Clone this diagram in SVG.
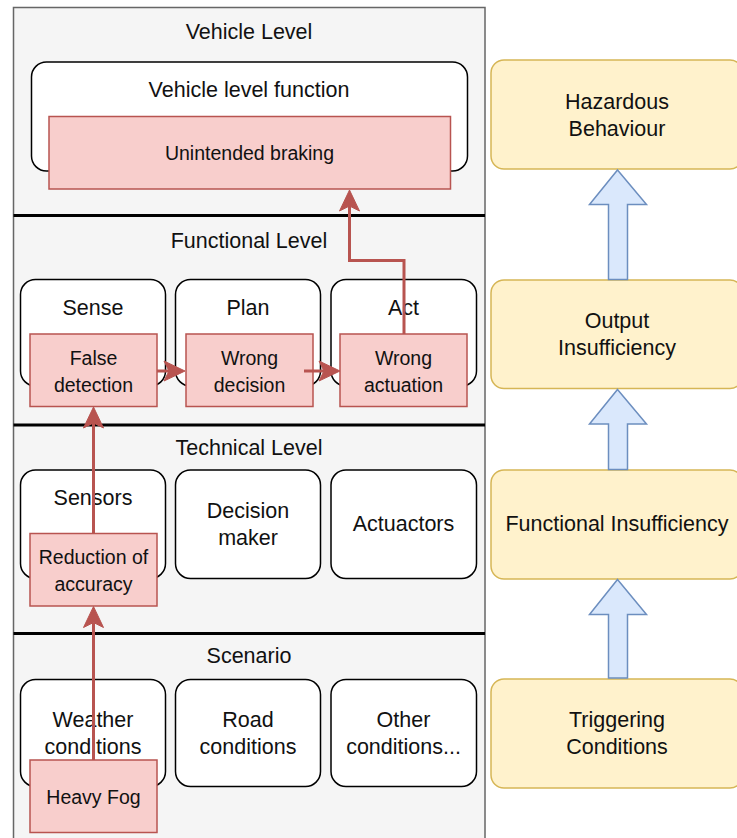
<svg xmlns="http://www.w3.org/2000/svg" width="737" height="838" viewBox="0 0 737 838">
<style>
  .t { font-family: "Liberation Sans", Arial, sans-serif; font-size: 21.5px; fill: #111; text-anchor: middle; dominant-baseline: central; }
  .tr { font-family: "Liberation Sans", Arial, sans-serif; font-size: 19.5px; fill: #111; text-anchor: middle; dominant-baseline: central; }
  .wbox { fill: #ffffff; stroke: #000000; stroke-width: 1.5; }
  .rbox { fill: #f8cecc; stroke: #b85450; stroke-width: 1.5; }
  .ybox { fill: #fff2cc; stroke: #d6b656; stroke-width: 1.5; }
  .sep { stroke: #000000; stroke-width: 3; }
  .conn { fill: none; stroke: #b85450; stroke-width: 3; }
  .barrow { fill: #dae8fc; stroke: #6c8ebf; stroke-width: 1.5; }
</style>
<defs>
  <marker id="ah" viewBox="-6 -11 23 22" refX="0" refY="0" markerWidth="23" markerHeight="22" markerUnits="userSpaceOnUse" orient="auto">
    <path d="M16,0 L-5,-10 L0,0 L-5,10 Z" fill="#b85450" stroke="#b85450" stroke-width="1"/>
  </marker>
</defs>

<g id="container">
  <rect x="13.5" y="7.5" width="471.5" height="845" fill="#f5f5f5" stroke="#666666" stroke-width="1.5"/>
  <line class="sep" x1="13.5" y1="215.5" x2="485" y2="215.5"/>
  <line class="sep" x1="13.5" y1="425" x2="485" y2="425"/>
  <line class="sep" x1="13.5" y1="633.5" x2="485" y2="633.5"/>
  <text class="t" x="249" y="32">Vehicle Level</text>
  <text class="t" x="249" y="241">Functional Level</text>
  <text class="t" x="249" y="447.5">Technical Level</text>
  <text class="t" x="249" y="656">Scenario</text>
</g>

<g id="vehicle-level-function">
  <rect class="wbox" x="31.5" y="62" width="436" height="109" rx="15"/>
  <text class="t" x="249" y="90">Vehicle level function</text>
</g>
<g id="unintended-braking">
  <rect class="rbox" x="49" y="116.5" width="401.5" height="72.5"/>
  <text class="tr" x="249.5" y="153">Unintended braking</text>
</g>

<g id="sense">
  <rect class="wbox" x="20.5" y="279.5" width="145" height="106.5" rx="15"/>
  <text class="t" x="93" y="308">Sense</text>
</g>
<g id="plan">
  <rect class="wbox" x="175.5" y="279.5" width="145" height="106.5" rx="15"/>
  <text class="t" x="248" y="308">Plan</text>
</g>
<g id="act">
  <rect class="wbox" x="331" y="279.5" width="145.5" height="106.5" rx="15"/>
  <text class="t" x="403.5" y="308">Act</text>
</g>
<g id="false-detection">
  <rect class="rbox" x="30" y="334" width="127" height="72.5"/>
  <text class="tr" x="93.5" y="358">False</text>
  <text class="tr" x="93.5" y="384.5">detection</text>
</g>
<g id="wrong-decision">
  <rect class="rbox" x="186" y="334" width="127" height="72.5"/>
  <text class="tr" x="249.5" y="358">Wrong</text>
  <text class="tr" x="249.5" y="384.5">decision</text>
</g>
<g id="wrong-actuation">
  <rect class="rbox" x="340" y="334" width="127" height="72.5"/>
  <text class="tr" x="403.5" y="358">Wrong</text>
  <text class="tr" x="403.5" y="384.5">actuation</text>
</g>

<g id="sensors">
  <rect class="wbox" x="20.5" y="470" width="145" height="108.5" rx="15"/>
  <text class="t" x="93" y="498">Sensors</text>
</g>
<g id="decision-maker">
  <rect class="wbox" x="175.5" y="470" width="145" height="108.5" rx="15"/>
  <text class="t" x="248" y="511">Decision</text>
  <text class="t" x="248" y="537.5">maker</text>
</g>
<g id="actuactors">
  <rect class="wbox" x="331" y="470" width="145.5" height="108.5" rx="15"/>
  <text class="t" x="403.5" y="523.5">Actuactors</text>
</g>
<g id="reduction-of-accuracy">
  <rect class="rbox" x="30" y="533.5" width="127" height="72.5"/>
  <text class="tr" x="93.5" y="557">Reduction of</text>
  <text class="tr" x="93.5" y="583.5">accuracy</text>
</g>

<g id="weather-conditions">
  <rect class="wbox" x="20.5" y="679.5" width="145" height="107" rx="15"/>
  <text class="t" x="93" y="719.5">Weather</text>
  <text class="t" x="93" y="746.5">conditions</text>
</g>
<g id="road-conditions">
  <rect class="wbox" x="175.5" y="679.5" width="145" height="107" rx="15"/>
  <text class="t" x="248" y="719.5">Road</text>
  <text class="t" x="248" y="746.5">conditions</text>
</g>
<g id="other-conditions">
  <rect class="wbox" x="331" y="679.5" width="145.5" height="107" rx="15"/>
  <text class="t" x="403.5" y="719.5">Other</text>
  <text class="t" x="403.5" y="746.5">conditions...</text>
</g>
<g id="heavy-fog">
  <rect class="rbox" x="30" y="760" width="127" height="72.5"/>
  <text class="tr" x="93.5" y="797">Heavy Fog</text>
</g>

<g id="hazardous-behaviour">
  <rect class="ybox" x="491" y="60" width="252" height="109" rx="13"/>
  <text class="t" x="617" y="101.5">Hazardous</text>
  <text class="t" x="617" y="128.5">Behaviour</text>
</g>
<g id="output-insufficiency">
  <rect class="ybox" x="491" y="280" width="252" height="108.5" rx="13"/>
  <text class="t" x="617" y="320.5">Output</text>
  <text class="t" x="617" y="347.5">Insufficiency</text>
</g>
<g id="functional-insufficiency">
  <rect class="ybox" x="491" y="470" width="252" height="109" rx="13"/>
  <text class="t" x="617" y="524">Functional Insufficiency</text>
</g>
<g id="triggering-conditions">
  <rect class="ybox" x="491" y="679" width="252" height="109" rx="13"/>
  <text class="t" x="617" y="720">Triggering</text>
  <text class="t" x="617" y="746.5">Conditions</text>
</g>

<g id="connectors">
  <line class="conn" x1="157" y1="371" x2="169" y2="371" marker-end="url(#ah)"/>
  <line class="conn" x1="304" y1="371" x2="324" y2="371" marker-end="url(#ah)"/>
  <polyline class="conn" points="404,334 404,260.5 349.5,260.5 349.5,206" marker-end="url(#ah)"/>
  <line class="conn" x1="93.5" y1="533.5" x2="93.5" y2="423" marker-end="url(#ah)"/>
  <line class="conn" x1="93.5" y1="760" x2="93.5" y2="622.5" marker-end="url(#ah)"/>
  <polygon class="barrow" points="617.5,170 646.5,204.5 627.5,204.5 627.5,279.5 608.5,279.5 608.5,204.5 589.5,204.5"/>
  <polygon class="barrow" points="617.5,389.5 646.5,424 627.5,424 627.5,469.5 608.5,469.5 608.5,424 589.5,424"/>
  <polygon class="barrow" points="617.5,579.5 646.5,614.5 627.5,614.5 627.5,678 608.5,678 608.5,614.5 589.5,614.5"/>
</g>
</svg>
